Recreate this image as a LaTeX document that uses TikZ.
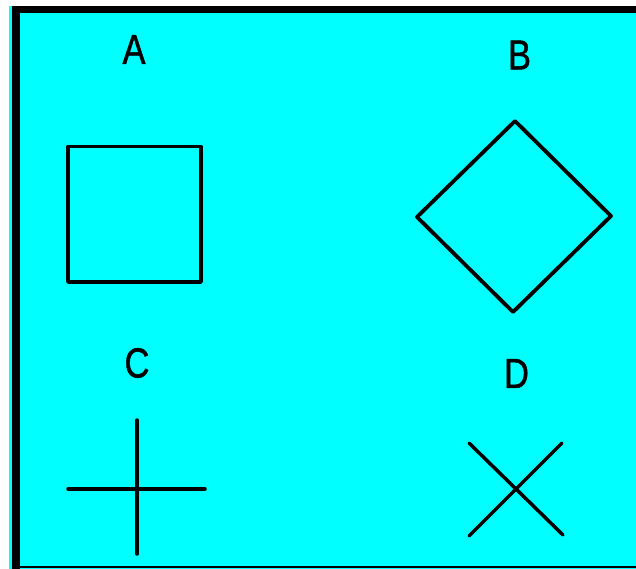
\documentclass[tikz,border=0pt]{standalone}
\usepackage{fontspec}
\setmainfont{Liberation Sans}
\newfontfamily\lblfont[FakeBold=1.2]{Liberation Sans}
\definecolor{bgcyan}{HTML}{00FFFF}
\begin{document}
\begin{tikzpicture}[x=1pt,y=-1pt,
  lbl/.style={font=\lblfont\fontsize{42}{42}\selectfont, inner sep=0pt, xscale=0.82},
  shp/.style={draw=black, line width=3.8pt, line join=round, line cap=round}]
\useasboundingbox (0,0) rectangle (636,569);
\fill[white] (0,0) rectangle (636,569);
\fill[bgcyan] (9,6) rectangle (636,569);
\fill[black] (12,6) rectangle (636,13);
\fill[black] (12,6) rectangle (19.5,569);
\fill[black] (19,565.5) rectangle (636,567.5);
% labels
\node[lbl] (A) at (134,49.5) {A};
\node[lbl] (B) at (519.5,55) {B};
\node[lbl] (C) at (137,363) {C};
\node[lbl] (D) at (516.5,373.5) {D};
% square
\draw[shp] (68,146.5) rectangle (201,282);
% diamond
\draw[shp] (515,121) -- (611,216) -- (513,312) -- (417,217) -- cycle;
% plus
\coordinate (pt) at (137,420);
\coordinate (pb) at (137,554);
\coordinate (pl) at (68,489);
\coordinate (pr) at (205,489);
\draw[shp, line width=3.5pt] (pt) -- (pb);
\draw[shp, line width=3.5pt] (pl) -- (pr);
% cross
\coordinate (xa) at (469,443);
\coordinate (xb) at (563,535);
\coordinate (xc) at (562,443);
\coordinate (xd) at (469,536);
\draw[shp, line width=3.5pt] (xa) -- (xb);
\draw[shp, line width=3.5pt] (xc) -- (xd);
\end{tikzpicture}
\end{document}
